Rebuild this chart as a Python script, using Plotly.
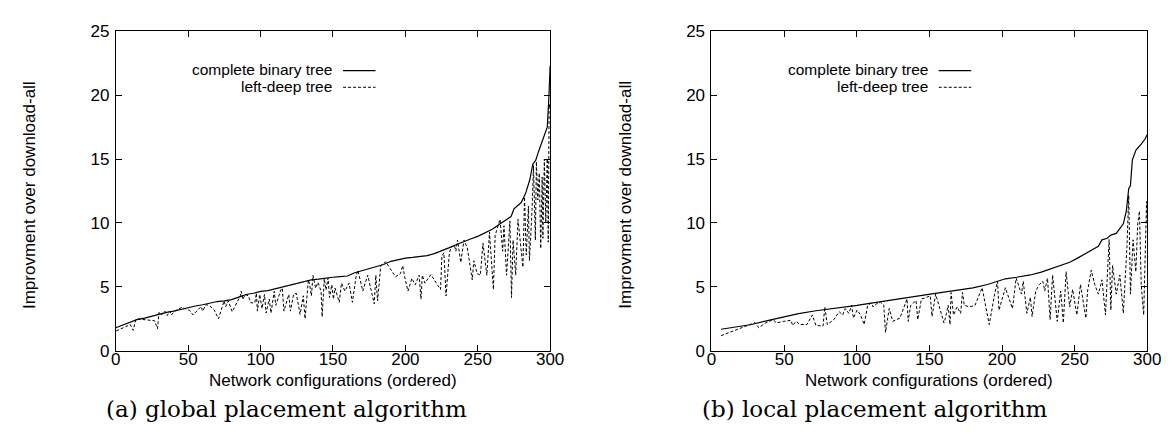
import plotly.graph_objects as go

# ---------------- data ----------------
# (a) global placement algorithm
a_cbt_x = [0, 5, 10, 15, 20, 25, 30, 35, 40, 45, 50, 55, 60, 65, 70, 75, 80, 85, 90, 95,
           100, 105, 110, 115, 120, 125, 130, 135, 140, 145, 150, 155, 160, 165, 170, 175,
           180, 185, 190, 195, 200, 205, 210, 215, 220, 225, 230, 235, 240, 245, 250, 255,
           260, 265, 270, 273, 275, 280, 283, 286, 288, 290, 292, 294, 296, 298, 299, 300]
a_cbt_y = [1.8, 2.0, 2.2, 2.45, 2.55, 2.7, 2.9, 3.0, 3.1, 3.25, 3.35, 3.5, 3.6, 3.75, 3.85, 3.9,
           4.0, 4.2, 4.4, 4.5, 4.65, 4.7, 4.85, 5.0, 5.1, 5.25, 5.4, 5.55, 5.6, 5.7, 5.75, 5.8,
           5.85, 6.1, 6.25, 6.4, 6.55, 6.75, 7.0, 7.15, 7.25, 7.3, 7.35, 7.45, 7.6, 7.8, 8.05,
           8.3, 8.55, 8.75, 8.95, 9.2, 9.5, 9.9, 10.3, 10.5, 11.1, 11.6, 12.3, 13.4, 14.6, 14.9,
           15.6, 16.2, 16.8, 17.5, 19.5, 22.3]

a_ldt_x = [0.3, 5, 10, 12, 13.9, 18, 22, 26.7, 28.8, 29.8, 31.6, 33.9, 35.5, 37.2, 38.4, 40.7,
           45.6, 51, 53.3, 58.9, 60, 62.2, 64.5, 67.9, 70.9, 74.8, 75.9, 77.7, 80.4, 86, 86.6,
           87.7, 89.3, 91.5, 93.3, 96, 97.1, 97.8, 99.4, 101, 102.7, 103.8, 106, 107.2, 109.4,
           110.5, 113.9, 115, 116.1, 119.5, 120.6, 122.8, 124.6, 127.3, 129.5, 130.7, 133, 134,
           135.1, 136.2, 138, 139.6, 141.8, 142.5, 144, 145.2, 146.6, 147.6, 149.2, 150.3, 151.4,
           154.3, 155.9, 158.2, 161.1, 163.4, 166.1, 167.2, 170.6, 174, 178.5, 179.6, 180.8, 183,
           186.4, 188.7, 193.2, 196.6, 198.2, 199.5, 201.8, 204.5, 206.8, 209.5, 210.8, 211.7,
           213.5, 217.6, 224.3, 225.2, 226.6, 228.1, 230.4, 231.5, 233.8, 234.9, 236, 238.3,
           240.5, 242.8, 246.2, 247.3, 249.6, 251.8, 253.6, 256.3, 258.1, 260.8, 262, 265.4,
           267.2, 268.1, 269.9, 272.2, 273.3, 274.4, 276.2, 277.8, 281.2, 282.3, 283.5, 285,
           285.7, 287.5, 288.5, 289.8, 290.5, 291.5, 292.5, 293.5, 294.5, 295, 296, 297, 298,
           298.7, 299.3, 300]
a_ldt_y = [1.55, 1.8, 2.05, 1.6, 2.47, 2.45, 2.4, 2.35, 1.72, 3.0, 2.8, 3.1, 2.75, 3.1, 2.8, 3.1,
           3.4, 3.15, 2.8, 3.45, 3.1, 3.6, 3.55, 3.2, 2.5, 3.9, 3.45, 3.9, 3.05, 4.3, 4.65,
           4.0, 4.4, 4.3, 3.75, 3.75, 4.5, 3.1, 4.4, 3.3, 4.4, 2.95, 4.05, 2.95, 4.65,
           3.55, 4.75, 4.9, 3.1, 4.4, 3.1, 4.4, 4.5, 2.85, 4.3, 2.5, 5.55, 5.1,
           4.3, 5.9, 4.9, 5.35, 4.65, 2.65, 5.65, 4.75, 5.7, 4.16, 5.16, 4.04, 4.91,
           3.79, 5.29, 4.67, 5.29, 3.79, 5.91, 6.29, 4.67, 5.91, 3.67, 5.91, 3.9, 6.66,
           6.96, 6.54, 5.79, 6.04, 6.66, 5.79, 4.67, 5.66, 5.16, 5.91, 4.04, 5.91,
           5.29, 5.96, 4.79, 7.41, 7.66, 4.29, 7.66, 8.04, 8.28, 7.79, 8.66, 6.91,
           8.66, 8.04, 5.54, 7.04, 6.04, 5.91, 8.41, 5.91, 9.28, 4.79, 9.03, 10.28,
           7.79, 9.78, 5.91, 10.16, 4.16, 8.66, 5.91, 10.28, 6.54, 12.03, 7.5, 11.3,
           7.04, 11.0, 14.5, 8.66, 14.8, 11.8, 13.9, 8.0, 13.6, 8.8, 15.0, 10.0, 15.0,
           8.5, 19.3, 19.0]

# (b) local placement algorithm
b_cbt_x = [6.6, 15, 27.6, 40, 50.2, 60, 71.9, 85, 100.2, 110, 121.1, 135, 150.6, 160, 170.3,
           180, 190, 196, 202.3, 210, 219.5, 227, 234.3, 240, 246.6, 252, 258.9, 263, 266.3,
           268.8, 272.4, 274.9, 278.6, 283.5, 285.5, 287.2, 288.4, 289.7, 292.1, 295.8, 298.3, 300]
b_cbt_y = [1.68, 1.82, 2.05, 2.4, 2.68, 2.9, 3.13, 3.3, 3.55, 3.72, 3.93, 4.15, 4.43, 4.58, 4.73,
           4.92, 5.18, 5.4, 5.63, 5.75, 5.93, 6.15, 6.43, 6.65, 6.93, 7.25, 7.68, 7.95, 8.18,
           8.68, 8.8, 9.05, 9.18, 9.93, 10.9, 12.68, 12.93, 14.93, 15.68, 16.18, 16.55, 16.93]

b_ldt_x = [6.6, 15.3, 27.6, 30, 32.5, 37.4, 42.3, 44.8, 49.7, 54.6, 55.9, 58.3, 60.8, 65.7, 69.4,
           71.9, 76.8, 78, 79.7, 84.2, 87.9, 90.3, 92, 94.5, 96.5, 97.7, 100.2, 102.6, 105.1,
           107.5, 110, 111.2, 113.7, 114.9, 116.2, 118.6, 119.8, 122.3, 124.8, 129.7, 134.6,
           135.4, 137.1, 140.8, 142, 144.5, 146.9, 150.6, 151.8, 154.3, 160, 161, 162.9, 164.2,
           164.9, 166.6, 169.1, 171.5, 172.8, 174, 177.7, 181.4, 186.3, 191.2, 194.9, 196.9,
           197.9, 199.8, 202.3, 207.2, 209.7, 213.4, 214.6, 217.1, 219.5, 220.7, 223.2, 225.7,
           228.1, 229.4, 231.3, 233.1, 234.8, 238, 240.4, 242.2, 244.1, 246.6, 248.6, 251.5,
           254, 257.7, 258.9, 261.4, 263.8, 266.3, 268.8, 271.2, 273.7, 274.9, 276.1, 278.6,
           281.1, 283.5, 286, 287.2, 288.4, 290.2, 292.1, 293.4, 294.6, 295.8, 297.5, 299.5, 300]
b_ldt_y = [1.18, 1.55, 2.05, 2.2, 1.8, 2.18, 2.43, 2.18, 2.3, 2.38, 1.98, 2.3, 2.05, 2.05, 2.8,
           1.98, 1.93, 3.43, 2.05, 2.43, 3.05, 2.8, 3.3, 2.93, 3.55, 2.55, 3.18, 2.8, 2.05,
           3.55, 3.73, 3.43, 3.68, 3.68, 3.8, 3.55, 1.43, 3.3, 2.3, 2.55, 4.05,
           2.3, 3.55, 3.93, 2.43, 4.05, 4.13, 4.3, 2.68, 4.43, 2.18, 2.55, 3.55, 2.05,
           4.55, 2.8, 3.43, 2.93, 4.55, 3.55, 3.43, 3.55, 4.93, 2.05, 4.43, 5.43,
           3.18, 3.93, 4.93, 3.3, 5.68, 4.43, 5.43, 2.93, 4.18, 2.68, 4.68, 5.18,
           5.43, 4.68, 5.68, 2.43, 5.93, 2.3, 4.68, 2.18, 6.18, 3.43, 4.8, 2.8,
           5.18, 2.55, 4.68, 6.3, 5.18, 4.43, 5.55, 2.8, 8.7, 3.18, 6.68, 4.43,
           5.93, 2.93, 8.18, 12.18, 4.43, 8.68, 6.18, 9.93, 10.93, 5.18, 2.8, 11.68, 9.93]

series_names = ["complete binary tree", "left-deep tree"]
x_ticks = [0, 50, 100, 150, 200, 250, 300]
y_ticks = [0, 5, 10, 15, 20, 25]
x_title = "Network configurations (ordered)"
y_title = "Improvment over download-all"
captions = ["(a) global placement algorithm", "(b) local placement algorithm"]

# ---------------- figure ----------------
W, H = 1172, 434
SANS = "Liberation Sans, Arial, sans-serif"
SERIF = "DejaVu Serif, serif"

def px_x(p):
    return p / W

def px_y(p):
    return (H - p) / H

solid = dict(color="black", width=1.2)
dashed = dict(color="black", width=1.0, dash="3px,2px")

fig = go.Figure()
fig.add_trace(go.Scatter(x=a_cbt_x, y=a_cbt_y, mode="lines", line=solid, xaxis="x", yaxis="y",
                         name=series_names[0], showlegend=False))
fig.add_trace(go.Scatter(x=a_ldt_x, y=a_ldt_y, mode="lines", line=dashed, xaxis="x", yaxis="y",
                         name=series_names[1], showlegend=False))
fig.add_trace(go.Scatter(x=b_cbt_x, y=b_cbt_y, mode="lines", line=solid, xaxis="x2", yaxis="y2",
                         name=series_names[0], showlegend=False))
fig.add_trace(go.Scatter(x=b_ldt_x, y=b_ldt_y, mode="lines", line=dashed, xaxis="x2", yaxis="y2",
                         name=series_names[1], showlegend=False))

plots = [
    dict(left=104.5, right=546.0),
    dict(left=710.0, right=1153.0),
]
top, bottom = 15.0, 349.0

axis_common = dict(
    showgrid=False, zeroline=False, showline=True, linecolor="black", linewidth=1,
    mirror="allticks", ticks="inside", ticklen=6, tickwidth=1, tickcolor="black",
    tickfont=dict(family=SANS, size=17, color="black"),
)

fig.update_layout(
    width=W, height=H,
    margin=dict(l=0, r=0, t=0, b=0),
    paper_bgcolor="white", plot_bgcolor="white",
    showlegend=False,
    xaxis=dict(domain=[px_x(plots[0]["left"]), px_x(plots[0]["right"])], range=[0, 300],
               tickvals=x_ticks, anchor="y", ticklabelstandoff=-7, **axis_common),
    yaxis=dict(domain=[px_y(bottom), px_y(top)], range=[0, 25], tickvals=y_ticks,
               anchor="x", ticklabelstandoff=2, **axis_common),
    xaxis2=dict(domain=[px_x(plots[1]["left"]), px_x(plots[1]["right"])], range=[0, 300],
                tickvals=x_ticks, anchor="y2", ticklabelstandoff=-7, **axis_common),
    yaxis2=dict(domain=[px_y(bottom), px_y(top)], range=[0, 25], tickvals=y_ticks,
                anchor="x2", ticklabelstandoff=2, **axis_common),
)

annotations = []
shapes = []
for i, p in enumerate(plots):
    cx = (p["left"] + p["right"]) / 2
    # x axis title
    annotations.append(dict(x=px_x(cx), y=px_y(380), xref="paper", yref="paper",
                            text=x_title, showarrow=False, xanchor="center", yanchor="middle",
                            font=dict(family=SANS, size=17, color="black")))
    # y axis title
    annotations.append(dict(x=px_x(p["left"] - 87), y=px_y(186), xref="paper", yref="paper",
                            text=y_title, showarrow=False, textangle=-90,
                            xanchor="center", yanchor="middle",
                            font=dict(family=SANS, size=17, color="black")))
    # caption
    annotations.append(dict(x=px_x(p["left"] - 12), y=px_y(410), xref="paper", yref="paper",
                            text=captions[i], showarrow=False, xanchor="left", yanchor="middle",
                            font=dict(family=SERIF, size=23, color="black")))
    # gnuplot-style key: right-aligned text followed by the line sample
    text_end = p["left"] + 221
    for j, (name, ln) in enumerate(zip(series_names, [solid, dashed])):
        ry = 55 + 17.5 * j
        annotations.append(dict(x=px_x(text_end), y=px_y(ry), xref="paper", yref="paper",
                                text=name, showarrow=False, xanchor="right", yanchor="middle",
                                borderpad=0,
                                font=dict(family=SANS, size=15.5, color="black")))
        shapes.append(dict(type="line", xref="paper", yref="paper",
                           x0=px_x(text_end + 10), x1=px_x(text_end + 43),
                           y0=px_y(ry + 1), y1=px_y(ry + 1), line=ln))

fig.update_layout(annotations=annotations, shapes=shapes)
fig.write_html("out.html")
